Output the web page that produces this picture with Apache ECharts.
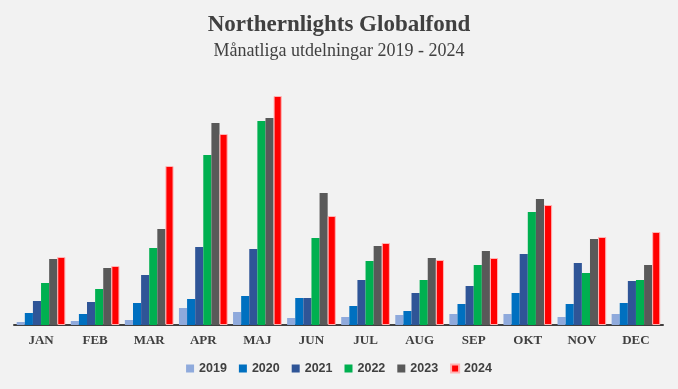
<!DOCTYPE html>
<html><head><meta charset="utf-8">
<script src="https://cdn.jsdelivr.net/npm/echarts@6/dist/echarts.min.js"></script>
<style>html,body{margin:0;padding:0;background:#f2f2f2}#c{width:678px;height:389px}</style>
</head><body><div id="c"></div>
<script>
var months = ['JAN','FEB','MAR','APR','MAJ','JUN','JUL','AUG','SEP','OKT','NOV','DEC'];
var years = ['2019','2020','2021','2022','2023','2024'];
var colors = ['#8faadc','#0070c0','#2f5597','#00b050','#595959','#ff0000'];
var v2019 = [3,4,5,17,13,7,8,10,11,11,8,11];
var v2020 = [12,11,22,26,29,27,19,14,21,32,21,22];
var v2021 = [24,23,50,78,76,27,45,32,39,71,62,44];
var v2022 = [42,36,77,170,204,87,64,45,60,113,52,45];
var v2023 = [66,57,96,202,207,132,79,67,74,126,86,60];
var v2024 = [68,59,159,191,229,109,82,65,67,120,88,93];
var seriesData = [v2019,v2020,v2021,v2022,v2023,v2024];

var chart = echarts.init(document.getElementById('c'));
chart.setOption({
  backgroundColor:'#f2f2f2',
  title:[{text:'Northernlights Globalfond',left:'center',top:9,
    textStyle:{fontFamily:'Liberation Serif',fontSize:23,fontWeight:'bold',color:'#404040'}},
    {text:'Månatliga utdelningar 2019 - 2024',left:'center',top:37,
    textStyle:{fontFamily:'Liberation Serif',fontSize:18,fontWeight:'normal',color:'#404040'}}],
  legend:{top:357,left:'center',itemWidth:8,itemHeight:8,itemGap:12,icon:'rect',
    textStyle:{fontFamily:'Liberation Sans',fontSize:12.5,fontWeight:'bold',color:'#404040'},
    data:years},
  grid:{left:14,right:15,top:75,bottom:64},
  xAxis:{type:'category',data:months,
    axisLine:{lineStyle:{color:'#404040',width:2}},axisTick:{show:false},
    axisLabel:{fontFamily:'Liberation Serif',fontSize:13,fontWeight:'bold',color:'#404040',margin:9}},
  yAxis:{type:'value',min:0,max:250,show:false,splitLine:{show:false}},
  series:seriesData.map(function(d,i){
    return {name:years[i],type:'bar',data:d,barGap:'0%',barCategoryGap:'10%',
      itemStyle:{color:colors[i],borderColor:i===5?'#ffb3b3':null,borderWidth:i===5?1:0},
      animation:false};
  })
});
</script></body></html>
